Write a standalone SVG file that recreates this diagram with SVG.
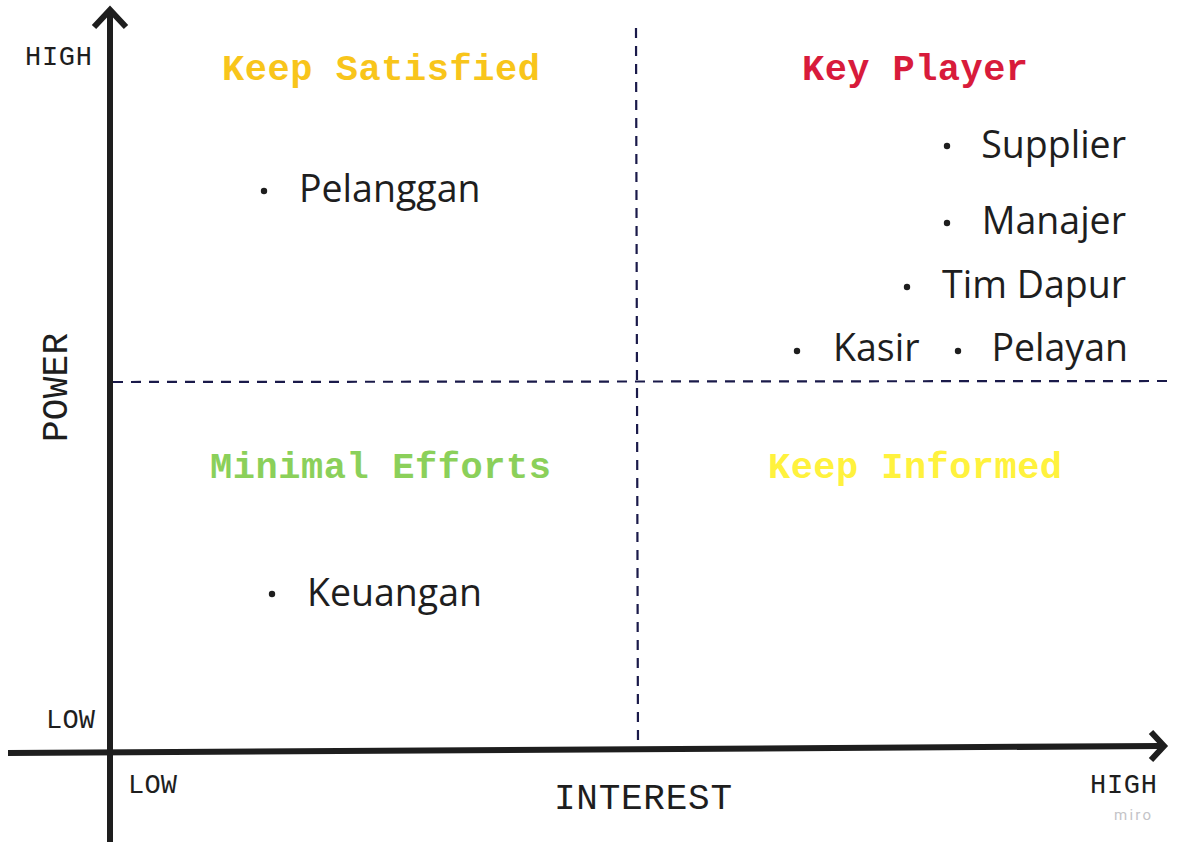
<svg xmlns="http://www.w3.org/2000/svg" width="1178" height="848" viewBox="0 0 1178 848">
<style>
.axis{stroke:#1e1e1e;stroke-width:6;fill:none;stroke-linecap:butt}
.dash{stroke:#1a1a4a;stroke-width:2.2;stroke-dasharray:10 8;fill:none}
.lbl{font-family:"Liberation Mono","DejaVu Sans Mono",monospace;fill:#1e1e1e}
.title{font-family:"Liberation Mono","DejaVu Sans Mono",monospace;font-weight:bold;font-size:37px}
.item{font-family:"Open Sans","Noto Sans",sans-serif;font-size:37.5px;fill:#1e1e1e}
.dot{fill:#1e1e1e}
</style>
<rect width="1178" height="848" fill="#ffffff"/>
<g id="connectors">
  <line class="dash" x1="636" y1="28" x2="638" y2="745"/>
  <line class="dash" x1="113" y1="382" x2="1168" y2="381"/>
  <line class="axis" x1="110" y1="12" x2="110" y2="842"/>
  <polyline class="axis" points="94,27 110,10 126,27" stroke-linejoin="miter"/>
  <line class="axis" x1="8" y1="753" x2="1160" y2="746"/>
  <polyline class="axis" points="1151,732 1164,746 1151,760" stroke-linejoin="miter"/>
</g>
<g id="axis-labels">
  <text class="lbl" x="25" y="65" font-size="27" textLength="67">HIGH</text>
  <text class="lbl" x="46" y="728" font-size="27" textLength="49">LOW</text>
  <text class="lbl" x="128" y="793" font-size="27" textLength="49">LOW</text>
  <text class="lbl" x="1090" y="793" font-size="27" textLength="67">HIGH</text>
  <text class="lbl" x="554" y="809" font-size="36" textLength="178">INTEREST</text>
  <text class="lbl" transform="translate(67,442) rotate(-90)" font-size="36" textLength="109">POWER</text>
  <text x="1114" y="820" font-family="Roboto,'Liberation Sans',sans-serif" font-size="15" fill="#c4c4c8" textLength="37">miro</text>
</g>
<g id="keep-satisfied">
  <text class="title" x="222" y="80" fill="#F8C51B" textLength="318">Keep Satisfied</text>
  <circle class="dot" cx="264" cy="191" r="3.2"/>
  <text class="item" x="299" y="202">Pelanggan</text>
</g>
<g id="key-player">
  <text class="title" x="802" y="80" fill="#D81B3B" textLength="226">Key Player</text>
  <circle class="dot" cx="947" cy="146" r="3.2"/>
  <text class="item" x="1126" y="158" text-anchor="end">Supplier</text>
  <circle class="dot" cx="947" cy="223" r="3.2"/>
  <text class="item" x="1126" y="234" text-anchor="end">Manajer</text>
  <circle class="dot" cx="907" cy="287" r="3.2"/>
  <text class="item" x="1126" y="298" text-anchor="end">Tim Dapur</text>
  <circle class="dot" cx="797" cy="351" r="3.2"/>
  <text class="item" x="833" y="361">Kasir</text>
  <circle class="dot" cx="958" cy="351" r="3.2"/>
  <text class="item" x="1128" y="361" text-anchor="end">Pelayan</text>
</g>
<g id="minimal-efforts">
  <text class="title" x="210" y="478" fill="#8BD05A" textLength="341">Minimal Efforts</text>
  <circle class="dot" cx="272" cy="594" r="3.2"/>
  <text class="item" x="307" y="606">Keuangan</text>
</g>
<g id="keep-informed">
  <text class="title" x="768" y="478" fill="#FFF23D" textLength="294">Keep Informed</text>
</g>
</svg>
